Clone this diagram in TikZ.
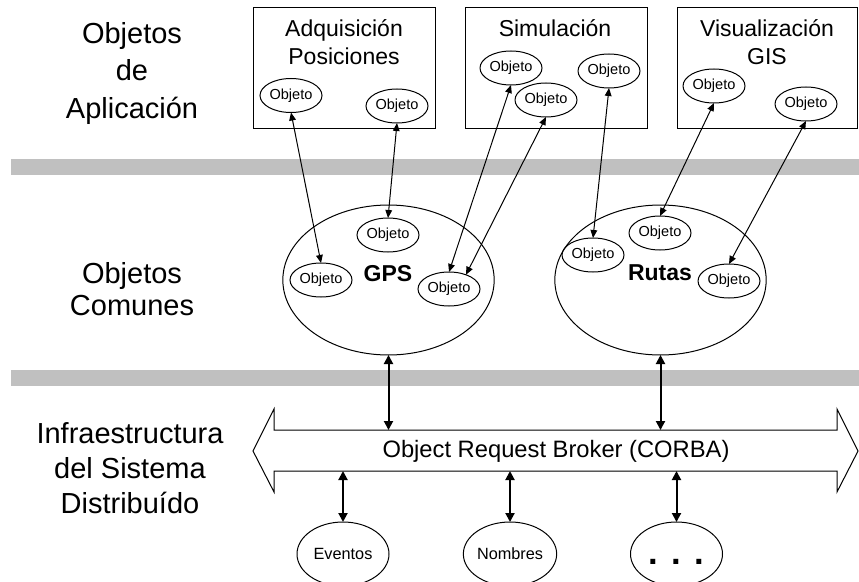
\documentclass[tikz,border=0pt]{standalone}
\usepackage{fontspec}
\setmainfont{Liberation Sans}
\usetikzlibrary{arrows.meta,shapes.geometric}
\definecolor{bargray}{RGB}{192,192,192}

\begin{document}
\begin{tikzpicture}[x=0.75pt,y=-0.75pt,
  every node/.style={inner sep=0pt, outer sep=0pt},
  thin/.style={line width=0.75pt},
  layertitle/.style={align=center, anchor=base},
  apptitle/.style={font=\fontsize{17.25}{21}\selectfont, align=center, anchor=base},
  appbox/.style={draw, thin, rectangle, minimum width=136.5pt, minimum height=90.75pt},
  obj/.style={draw, thin, ellipse, minimum width=46.5pt, minimum height=25.5pt,
              font=\fontsize{10.9}{12}\selectfont},
  common/.style={draw, thin, ellipse, minimum width=158.5pt, minimum height=112.5pt},
  commonname/.style={font=\fontsize{17.25}{20}\selectfont\bfseries},
  service/.style={draw, thin, ellipse, minimum width=69pt, minimum height=48pt,
                  font=\fontsize{12.2}{14}\selectfont},
  link/.style={thin, {Triangle[length=6pt,width=5pt]}-{Triangle[length=6pt,width=5pt]}},
  buslink/.style={line width=1.5pt, {Triangle[length=6.75pt,width=6.75pt]}-{Triangle[length=6.75pt,width=6.75pt]}}
]
\useasboundingbox (0,0) rectangle (859,581);
\clip (0,0) rectangle (859,581);

% layer separators
\fill[bargray] (11,159) rectangle (859,175);
\fill[bargray] (11,370) rectangle (859,386);

% layer names (anchored at the baseline of their last line)
\node[layertitle, font=\fontsize{21.75}{28}\selectfont] (lapp) at (132,118) {Objetos\\de\\Aplicación};
\node[layertitle, font=\fontsize{21.75}{24}\selectfont] (lcom) at (132,315) {Objetos\\Comunes};
\node[layertitle, font=\fontsize{21.75}{26.25}\selectfont] (linf) at (130,513) {Infraestructura\\del Sistema\\Distribuído};

% application objects
\node[appbox] (box1) at (344,68.5) {};
\node[appbox] (box2) at (556,68.5) {};
\node[appbox, minimum width=135pt] (box3) at (767,68.5) {};
\node[apptitle] (t1) at (344,65) {Adquisición\\Posiciones};
\node[apptitle] (t2) at (555,37) {Simulación};
\node[apptitle] (t3) at (767,65) {Visualización\\GIS};

\node[obj] (a1) at (291,95.5) {Objeto};
\node[obj] (a2) at (397,106) {Objeto};
\node[obj] (b1) at (511,68) {Objeto};
\node[obj] (b2) at (546,100) {Objeto};
\node[obj] (b3) at (609,71) {Objeto};
\node[obj] (c1) at (714,86) {Objeto};
\node[obj] (c2) at (806,104) {Objeto};

% common objects
\node[common] (gps) at (388.5,280) {};
\node[commonname] (gpsname) at (388,273.5) {GPS};
\node[obj] (g1) at (321,280) {Objeto};
\node[obj] (g2) at (388,235) {Objeto};
\node[obj] (g3) at (449,289) {Objeto};

\node[common] (rutas) at (660.5,280) {};
\node[commonname] (rutasname) at (660,272.5) {Rutas};
\node[obj] (r1) at (593,255) {Objeto};
\node[obj] (r2) at (660,233) {Objeto};
\node[obj] (r3) at (729,281) {Objeto};

% links between application and common objects
\draw[link] (a1.south) -- (g1.north);
\draw[link] (a2.south) -- (g2.north);
\draw[link] (b1.south) -- (g3.north);
\draw[link] (b2.south) -- (g3.40);
\draw[link] (b3.south) -- (r1.north);
\draw[link] (c1.south) -- (r2.north);
\draw[link] (c2.south) -- (r3.north);

% object request broker
\draw[thin, fill=white] (274,430) -- (837,430) -- (837,409) -- (858,451) -- (837,492)
  -- (837,471) -- (274,471) -- (274,492) -- (253,451) -- (274,409) -- cycle;
\coordinate (orbN) at (556,430);
\coordinate (orbS) at (556,471);
\node[anchor=base, font=\fontsize{17.8}{20}\selectfont] (orb) at (556,457) {Object Request Broker (CORBA)};

% services
\node[service] (evt) at (343,554) {Eventos};
\node[service] (nom) at (510,554) {Nombres};
\node[service, text height=15pt, text depth=0pt, font=\fontsize{26}{26}\selectfont\bfseries]
  (more) at (676.5,554) {.\hspace{10pt}.\hspace{10pt}.};

% bus connections
\draw[buslink] (gps.south) -- (gps.south |- orbN);
\draw[buslink] (rutas.south) -- (rutas.south |- orbN);
\draw[buslink] (orbS -| evt.north) -- (evt.north);
\draw[buslink] (orbS -| nom.north) -- (nom.north);
\draw[buslink] (orbS -| more.north) -- (more.north);
\end{tikzpicture}
\end{document}
